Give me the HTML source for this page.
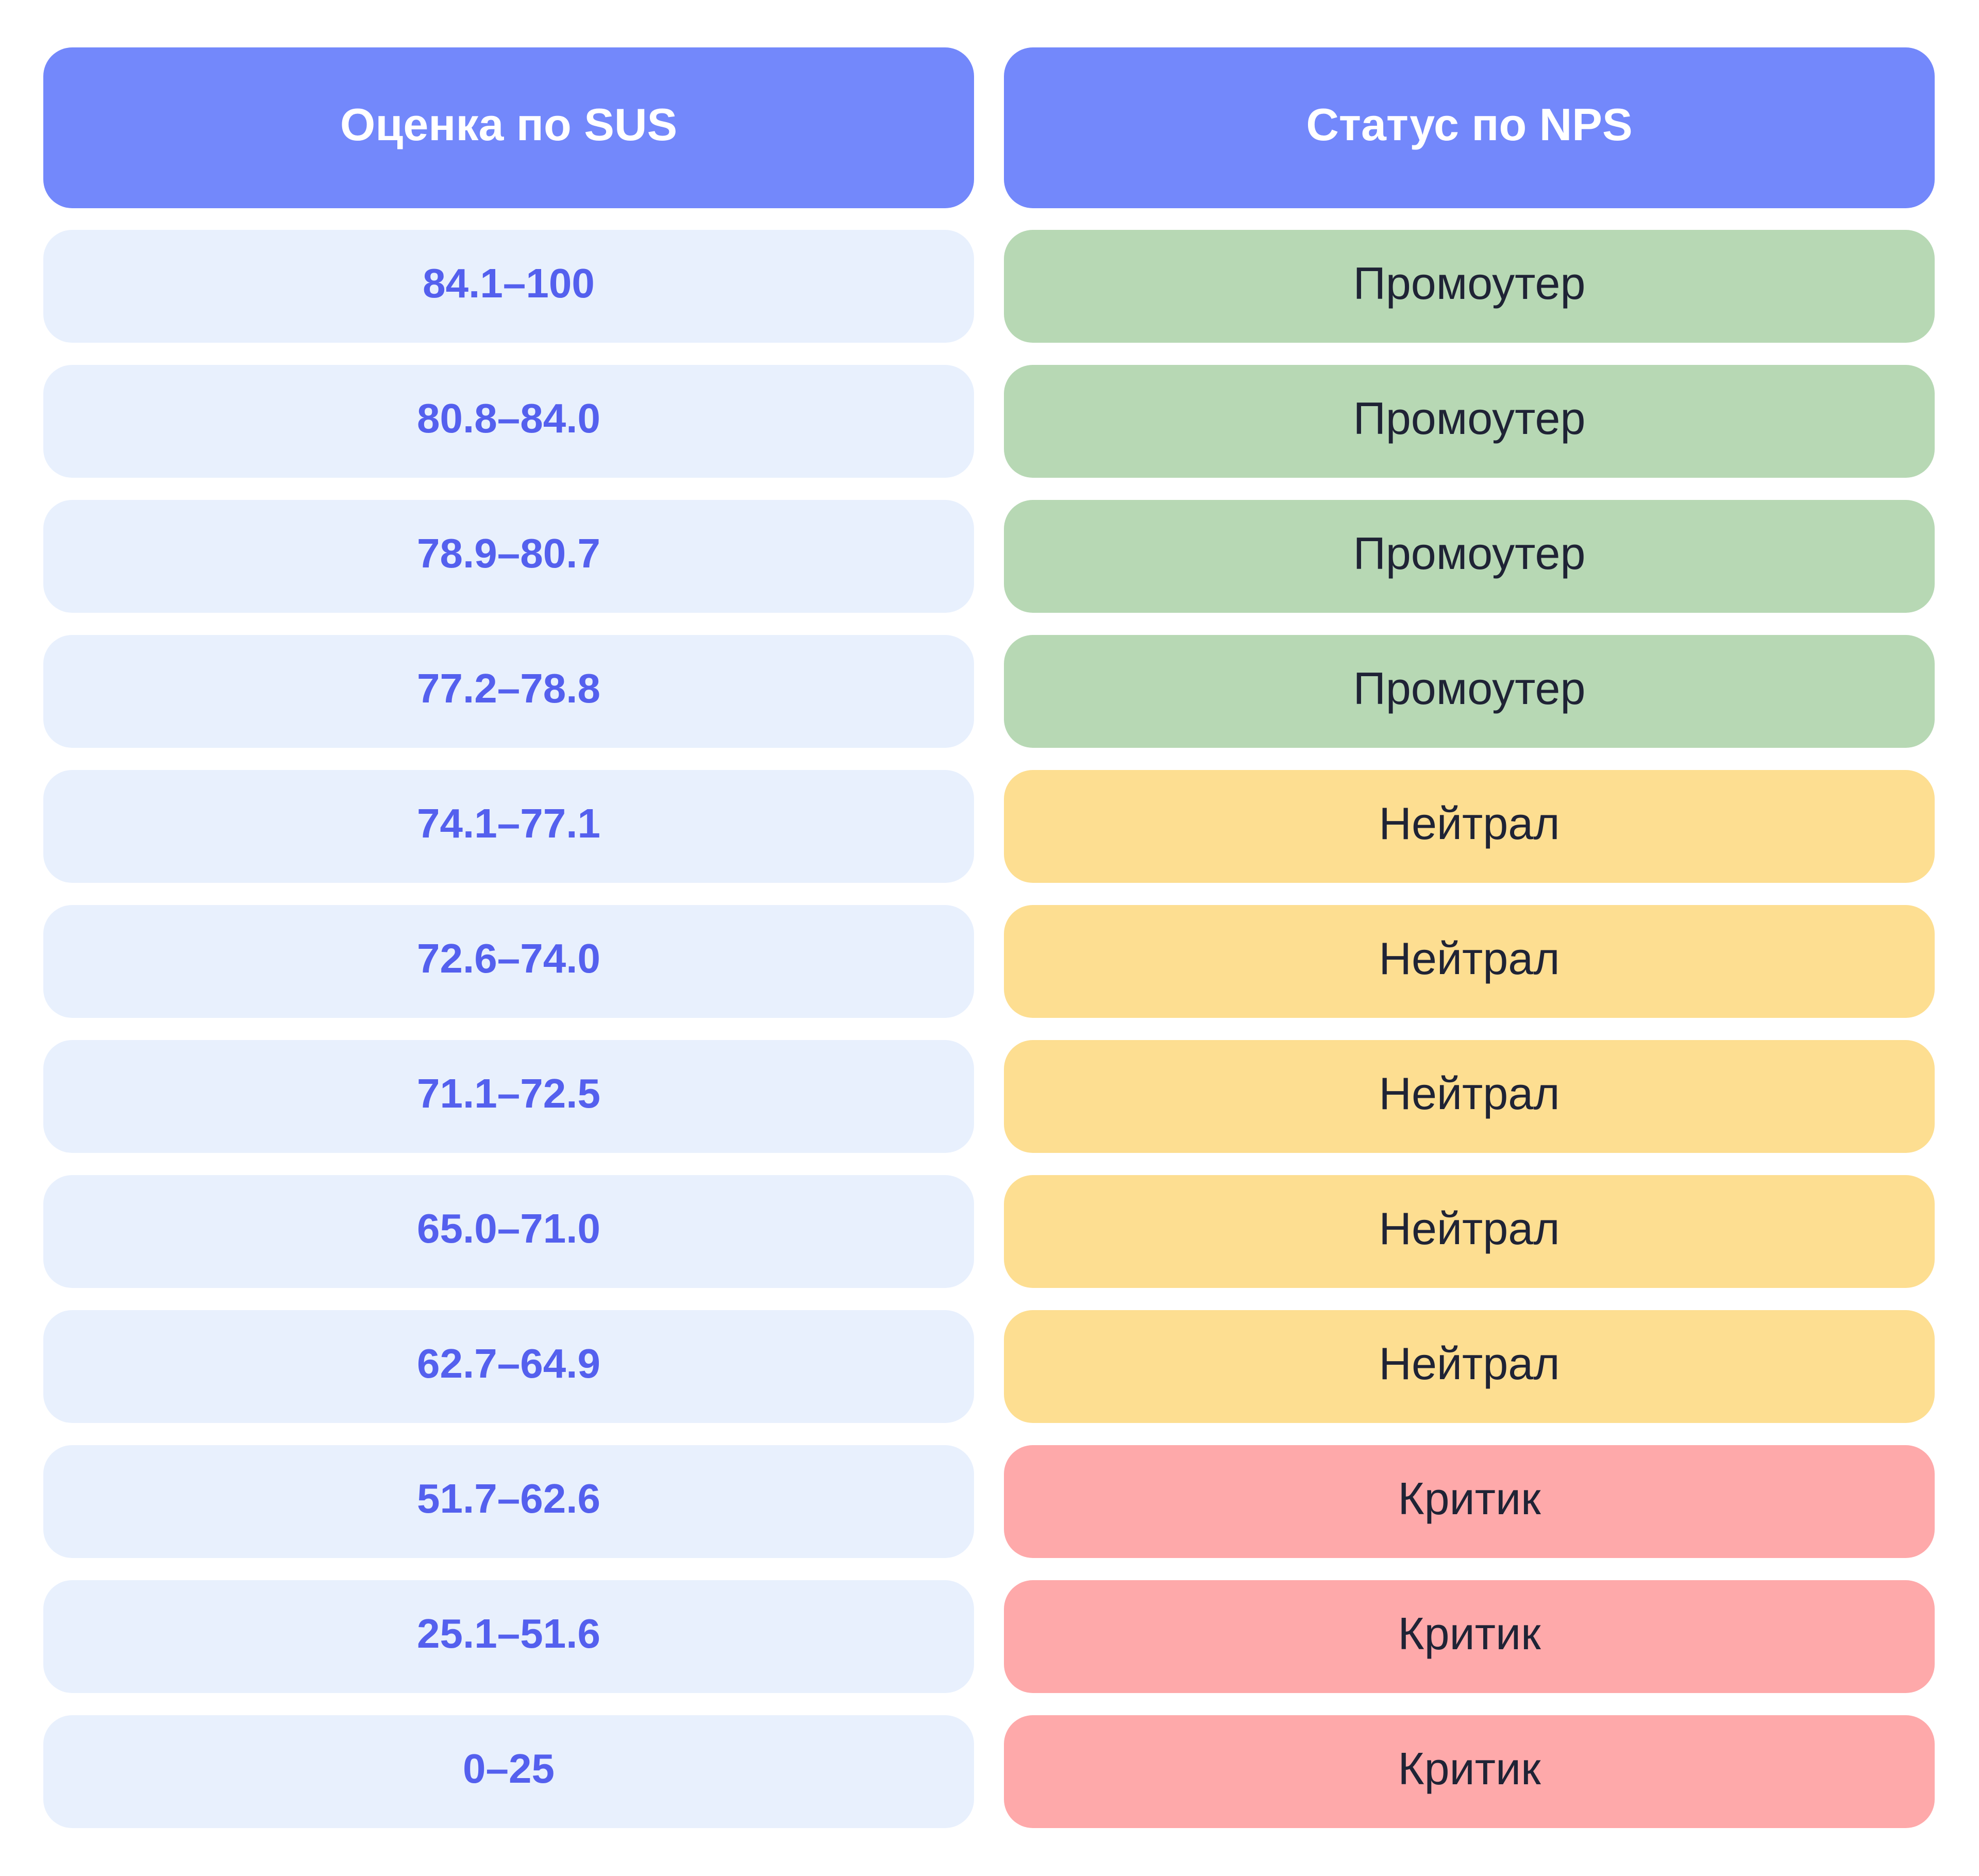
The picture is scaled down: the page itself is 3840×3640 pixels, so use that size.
<!DOCTYPE html>
<html><head><meta charset="utf-8"><style>
html,body{margin:0;padding:0;background:#fff;}
body{width:3840px;height:3640px;position:relative;overflow:hidden;font-family:"Liberation Sans","DejaVu Sans",sans-serif;}
.c{position:absolute;border-radius:56px;display:flex;align-items:center;justify-content:center;box-sizing:border-box;padding-bottom:12px;}
.h{background:#7388FB;color:#fff;font-weight:bold;font-size:88px;top:92px;height:312px;}
.l{left:84px;width:1806px;}
.r{left:1948px;width:1806px;}
.s{background:#E8F0FD;color:#5460EE;font-weight:bold;font-size:80px;height:219px;}
.t{color:#1F2335;font-size:88px;height:219px;}
.g{background:#B7D8B4;}.y{background:#FDDE91;}.p{background:#FEA9AA;}
</style></head><body>
<div class="c h l">Оценка по SUS</div>
<div class="c h r">Статус по NPS</div>

<div class="c s l" style="top:446px">84.1–100</div>
<div class="c t r g" style="top:446px">Промоутер</div>
<div class="c s l" style="top:708px">80.8–84.0</div>
<div class="c t r g" style="top:708px">Промоутер</div>
<div class="c s l" style="top:970px">78.9–80.7</div>
<div class="c t r g" style="top:970px">Промоутер</div>
<div class="c s l" style="top:1232px">77.2–78.8</div>
<div class="c t r g" style="top:1232px">Промоутер</div>
<div class="c s l" style="top:1494px">74.1–77.1</div>
<div class="c t r y" style="top:1494px">Нейтрал</div>
<div class="c s l" style="top:1756px">72.6–74.0</div>
<div class="c t r y" style="top:1756px">Нейтрал</div>
<div class="c s l" style="top:2018px">71.1–72.5</div>
<div class="c t r y" style="top:2018px">Нейтрал</div>
<div class="c s l" style="top:2280px">65.0–71.0</div>
<div class="c t r y" style="top:2280px">Нейтрал</div>
<div class="c s l" style="top:2542px">62.7–64.9</div>
<div class="c t r y" style="top:2542px">Нейтрал</div>
<div class="c s l" style="top:2804px">51.7–62.6</div>
<div class="c t r p" style="top:2804px">Критик</div>
<div class="c s l" style="top:3066px">25.1–51.6</div>
<div class="c t r p" style="top:3066px">Критик</div>
<div class="c s l" style="top:3328px">0–25</div>
<div class="c t r p" style="top:3328px">Критик</div>
</body></html>
